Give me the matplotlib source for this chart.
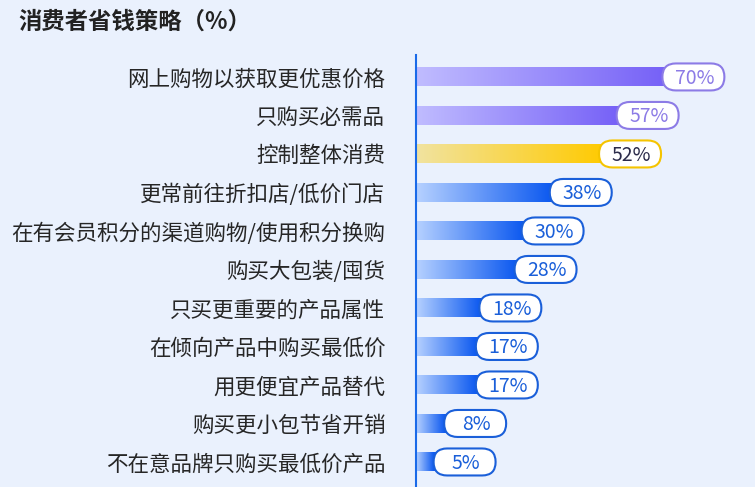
import numpy as np
import matplotlib.pyplot as plt
from matplotlib.colors import LinearSegmentedColormap
from matplotlib.patches import FancyBboxPatch

plt.rcParams['font.family'] = ['Noto Sans CJK SC', 'DejaVu Sans']

# Données
labels = ["网上购物以获取更优惠价格", "只购买必需品", "控制整体消费", "更常前往折扣店/低价门店",
          "在有会员积分的渠道购物/使用积分换购", "购买大包装/囤货", "只买更重要的产品属性",
          "在倾向产品中购买最低价", "用更便宜产品替代", "购买更小包节省开销", "不在意品牌只购买最低价产品"]
values = [70, 57, 52, 38, 30, 28, 18, 17, 17, 8, 5]
groups = ["purple", "purple", "yellow", "blue", "blue", "blue", "blue", "blue", "blue", "blue", "blue"]

# Styles par groupe : (couleur gauche, couleur droite, bord, texte)
styles = {
    "purple": ("#c0bcff", "#7762f7", "#8c7be6", "#8c7be6"),
    "yellow": ("#f1e3a0", "#ffcb05", "#f5c400", "#2b2b4a"),
    "blue": ("#b6d1ff", "#0f5bf0", "#1a5fd9", "#1a5fd9"),
}

bg = "#eaf1fd"
W, H = 755, 487
fig = plt.figure(figsize=(W / 100, H / 100), dpi=100, facecolor=bg)

# Position de l'axe en pixels
left, top, bottom = 416, 55, 487
ax = fig.add_axes([left / W, 0, (W - left) / W, (bottom - top) / H])
ax.set_facecolor(bg)

px_x = 3.52            # pixels par unité en x
xmax = (W - left) / px_x
px_y = (bottom - top) / (10.65 + 0.57)

bar_h = 19 / px_y
pill_w = 62 / px_x
pill_h = 27 / px_y
r_px = 13.5

for i, (v, g) in enumerate(zip(values, groups)):
    c0, c1, ec, tc = styles[g]
    cmap = LinearSegmentedColormap.from_list(g, [c0, c1])
    end = v + pill_w / 2
    # dégradé qui atteint la couleur foncée au bord de la pastille
    grad = np.clip(np.linspace(0, end / v, 256), 0, 1).reshape(1, -1)
    ax.imshow(grad, cmap=cmap, aspect='auto', extent=[0, end, i + bar_h / 2, i - bar_h / 2],
              zorder=2, interpolation='bicubic', vmin=0, vmax=1)
    r = r_px / px_x
    pill = FancyBboxPatch((v, i - pill_h / 2), pill_w, pill_h,
                          boxstyle=f"round,pad=0,rounding_size={r}",
                          mutation_aspect=(r_px / px_y) / r,
                          facecolor="white", edgecolor=ec, linewidth=1.5, zorder=3)
    ax.add_patch(pill)
    ax.text(v + pill_w / 2 + 0.4, i + 0.03, f"{v}%", ha="center", va="center",
            fontsize=14, fontweight="light", color=tc, zorder=4)

ax.set_xlim(0, xmax)
ax.set_ylim(10.65, -0.57)

ax.set_yticks(range(len(labels)))
ax.set_yticklabels(labels, fontsize=15.5, color="#262626")
ax.tick_params(axis='y', length=0, pad=22)
ax.set_xticks([])
for s in ["top", "right", "bottom"]:
    ax.spines[s].set_visible(False)
ax.spines["left"].set_color("#1a6ae8")
ax.spines["left"].set_linewidth(1.5)

fig.text(18 / W, 1 - 22 / H, "消费者省钱策略（%）", fontsize=16.8, fontweight="bold",
         color="#222222", ha="left", va="center")

fig.savefig("out.png", dpi=100, facecolor=bg)
